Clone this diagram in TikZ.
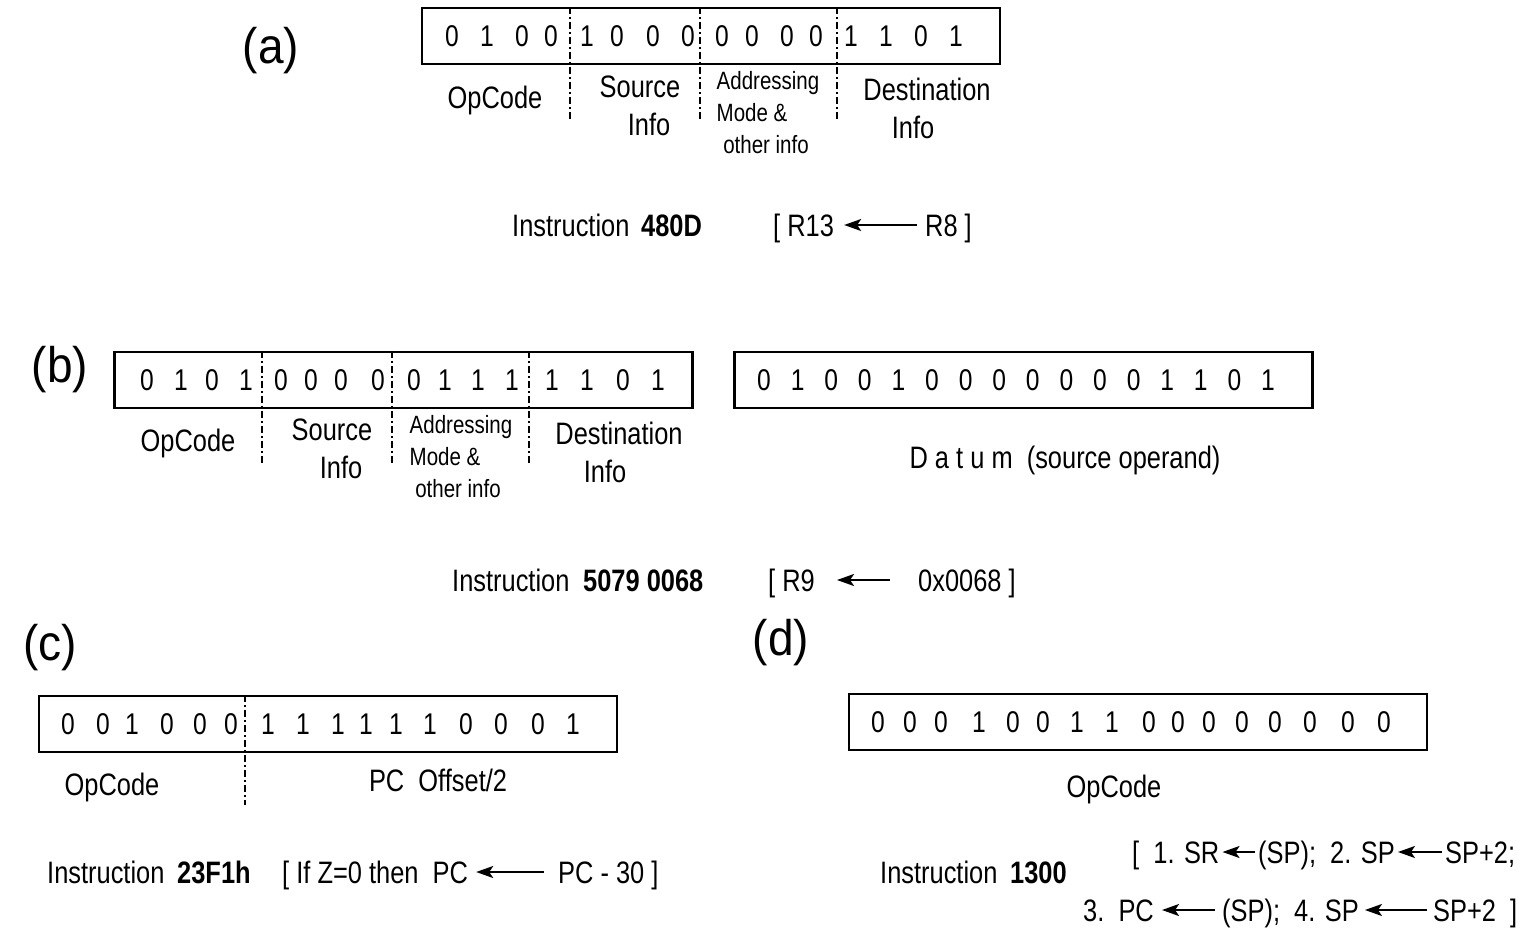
\documentclass[tikz,border=0pt]{standalone}
\usepackage{fontspec}
\setmainfont{Liberation Sans}[FakeStretch=0.82]
\newfontfamily\tagfont{Liberation Sans}[FakeStretch=0.92]
\usetikzlibrary{arrows.meta}
\begin{document}
\begin{tikzpicture}[x=1pt,y=-1pt,
 bit/.style={font=\fontsize{30}{32}\selectfont, inner sep=0pt, text height=21.5pt, text depth=0pt},
 lbl/.style={font=\fontsize{31}{33}\selectfont, inner sep=0pt, text height=22pt, text depth=0pt},
 sml/.style={font=\fontsize{25}{27}\selectfont, inner sep=0pt, text height=18pt, text depth=0pt},
 tag/.style={font=\tagfont\fontsize{50}{52}\selectfont, inner sep=0pt},
 regbox/.style={draw, line width=2.2pt, minimum width=578pt, minimum height=56pt, inner sep=0pt},
 divline/.style={line width=2pt, dash pattern=on 7pt off 3pt on 2pt off 3pt},
 arr/.style={line width=2pt, -{Stealth[length=17pt,width=12pt,inset=4pt]}},
]
\fill[white] (0,0) rectangle (1529,930);
\useasboundingbox (0,0) rectangle (1529,930);

% ---------------- (a)
\node[tag] (ta) at (271,51) {(a)};
\node[regbox] (A) at (711,36) {};
\foreach \x/\d [count=\i] in {452/0,487/1,522/0,551/0,587/1,617/0,653/0,688/0,722/0,752/0,787/0,816/0,851/1,886/1,921/0,956/1}
  \node[bit] (a\i) at (\x,36) {\d};
\foreach \x in {570,700,837} \draw[divline] (\x,0 |- A.north) -- (\x,120);
\node[lbl] (aop) at (495,97) {OpCode};
\node[lbl] (asrc1) at (640,86) {Source};
\node[lbl] (asrc2) at (649,124) {Info};
\node[sml] (aad1) at (768,80) {Addressing};
\node[sml] (aad2) at (752,112) {Mode \&};
\node[sml] (aad3) at (766,144) {other info};
\node[lbl] (ads1) at (927,89) {Destination};
\node[lbl] (ads2) at (913,127) {Info};
\node[lbl,anchor=west] (ains) at (512,225) {Instruction};
\node[lbl,anchor=west] (ahex) at (641,225) {\bfseries 480D};
\node[lbl,anchor=west] (al) at (773,225) {[ R13};
\node[lbl,anchor=west] (ar) at (925,225) {R8 ]};
\draw[arr] ([xshift=-8pt]ar.west) -- ([xshift=10pt]al.east);

% ---------------- (b)
\node[tag] (tb) at (60,370) {(b)};
\node[regbox] (B) at (403.5,380) {};
\foreach \x/\d [count=\i] in {147/0,181/1,212/0,246/1,281/0,311/0,341/0,378/0,414/0,445/1,478/1,512/1,552/1,587/1,623/0,658/1}
  \node[bit] (b\i) at (\x,380) {\d};
\foreach \x in {262,392,529} \draw[divline] (\x,0 |- B.north) -- (\x,465);
\node[lbl] (bop) at (188,440) {OpCode};
\node[lbl] (bsrc1) at (332,429) {Source};
\node[lbl] (bsrc2) at (341,467) {Info};
\node[sml] (bad1) at (461,424) {Addressing};
\node[sml] (bad2) at (445,456) {Mode \&};
\node[sml] (bad3) at (458,488) {other info};
\node[lbl] (bds1) at (619,433) {Destination};
\node[lbl] (bds2) at (605,471) {Info};

\node[regbox] (D) at (1023.5,380) {};
\foreach \d [count=\i] in {0,1,0,0,1,0,0,0,0,0,0,0,1,1,0,1}
  \node[bit] (dd\i) at ({764+(\i-1)*33.6},380) {\d};
\node[lbl] (dlab) at (1065,457) {D a t u m\ \ (source operand)};

\node[lbl,anchor=west] (bins) at (452,580) {Instruction};
\node[lbl,anchor=west] (bhex) at (583,580) {\bfseries 5079 0068};
\node[lbl,anchor=west] (bl) at (768,580) {[ R9};
\node[lbl,anchor=west] (br) at (918,580) {0x0068 ]};
\draw[arr] ([xshift=-28pt]br.west) -- ([xshift=22pt]bl.east);

% ---------------- (c)
\node[tag] (tc) at (50,648) {(c)};
\node[regbox] (C) at (328,724) {};
\foreach \x/\d [count=\i] in {68/0,103/0,132/1,167/0,200/0,231/0,268/1,303/1,338/1,366/1,396/1,430/1,466/0,501/0,538/0,573/1}
  \node[bit] (c\i) at (\x,724) {\d};
\draw[divline] (245,0 |- C.north) -- (245,805);
\node[lbl] (cop) at (112,784) {OpCode};
\node[lbl] (coff) at (438,780) {PC\ \ Offset/2};
\node[lbl,anchor=west] (cins) at (47,872) {Instruction};
\node[lbl,anchor=west] (chex) at (177,872) {\bfseries 23F1h};
\node[lbl,anchor=west] (cl) at (282,872) {[ If Z=0 then\ \ PC};
\node[lbl,anchor=west] (cr) at (558,872) {PC - 30 ]};
\draw[arr] ([xshift=-14pt]cr.west) -- ([xshift=8pt]cl.east);

% ---------------- (d)
\node[tag] (td) at (781,643) {(d)};
\node[regbox] (E) at (1138,722) {};
\foreach \x/\d [count=\i] in {878/0,910/0,941/0,979/1,1013/0,1043/0,1077/1,1112/1,1149/0,1178/0,1209/0,1242/0,1275/0,1310/0,1348/0,1384/0}
  \node[bit] (e\i) at (\x,722) {\d};
\node[lbl] (eop) at (1114,786) {OpCode};
\node[lbl,anchor=west] (eins) at (880,872) {Instruction};
\node[lbl,anchor=west] (ehex) at (1010,872) {\bfseries 1300};

\node[lbl,anchor=west] (s1) at (1132,852) {[\ \ 1. SR};
\node[lbl,anchor=west] (s2) at (1258,852) {(SP);\ \ 2. SP};
\node[lbl,anchor=west] (s3) at (1445,852) {SP+2;};
\draw[arr] ([xshift=-3pt]s2.west) -- ([xshift=3pt]s1.east);
\draw[arr] ([xshift=-3pt]s3.west) -- ([xshift=3pt]s2.east);

\node[lbl,anchor=west] (t1) at (1083,910) {3.\ \ PC};
\node[lbl,anchor=west] (t2) at (1222,910) {(SP);\ \ 4. SP};
\node[lbl,anchor=west] (t3) at (1433,910) {SP+2\ \ ]};
\draw[arr] ([xshift=-7pt]t2.west) -- ([xshift=8pt]t1.east);
\draw[arr] ([xshift=-6pt]t3.west) -- ([xshift=6pt]t2.east);
\end{tikzpicture}
\end{document}
